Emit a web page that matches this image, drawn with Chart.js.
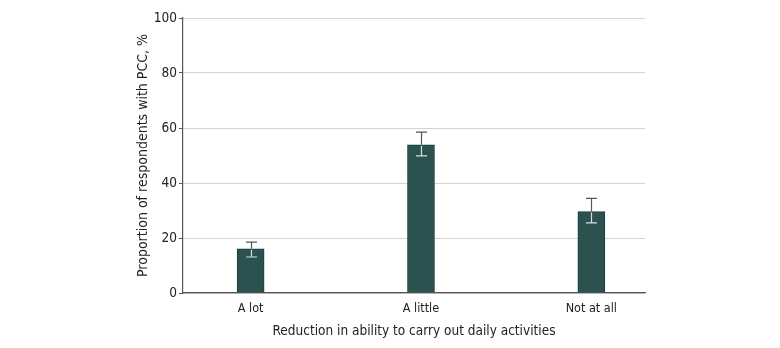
<!DOCTYPE html>
<html>
<head>
<meta charset="utf-8">
<script src="https://cdn.jsdelivr.net/npm/chart.js@4"></script>
<style>
  html, body { margin: 0; padding: 0; background: #fff; }
  #wrap { width: 780px; height: 348px; }
</style>
</head>
<body>
<div id="wrap"><canvas id="pcc_chart"></canvas></div>
<script>
// categories and values
const categories = ['A lot', 'A little', 'Not at all'];
const proportions = [16.1, 53.9, 29.6];
const ciLow = [13.1, 49.9, 25.5];
const ciHigh = [18.5, 58.5, 34.4];
const yTicks = [0, 20, 40, 60, 80, 100];

const fontFamily = "'DejaVu Sans Condensed', 'Noto Sans', sans-serif";

// error bars, drawn through the chart's own scales
const errorBars = {
    id: 'errorBars',
    afterDatasetsDraw(chart) {
        const ctx = chart.ctx;
        const xs = chart.scales.x;
        const ys = chart.scales.y;
        const half = 5.5;
        ctx.save();
        ctx.lineWidth = 1.2;
        proportions.forEach((v, i) => {
            const x = Math.round(xs.getPixelForValue(i + 1)) + 0.5;
            const yTop = ys.getPixelForValue(v);
            const yHi = ys.getPixelForValue(ciHigh[i]);
            const yLo = ys.getPixelForValue(ciLow[i]);
            // part above the bar
            ctx.strokeStyle = '#555';
            ctx.beginPath();
            ctx.moveTo(x, yHi);
            ctx.lineTo(x, yTop);
            ctx.moveTo(x - half, yHi);
            ctx.lineTo(x + half, yHi);
            ctx.stroke();
            // part inside the bar
            ctx.strokeStyle = '#d8dedd';
            ctx.beginPath();
            ctx.moveTo(x, yTop + 1);
            ctx.lineTo(x, yLo);
            ctx.moveTo(x - half, yLo);
            ctx.lineTo(x + half, yLo);
            ctx.stroke();
        });
        ctx.restore();
    }
};

const ctx = document.getElementById('pcc_chart').getContext('2d');
const pccChart = new Chart(ctx, {
    type: 'bar',
    data: {
        datasets: [{
            data: proportions.map((v, i) => ({ x: i + 1, y: v })),
            backgroundColor: '#2b5250',
            borderColor: '#1f3d3b',
            borderWidth: 1,
            barThickness: 27
        }]
    },
    options: {
        responsive: true,
        maintainAspectRatio: false,
        animation: false,
        layout: { padding: { left: 131, right: 135, top: 18, bottom: 0 } },
        plugins: {
            legend: { display: false },
            tooltip: { enabled: false }
        },
        scales: {
            x: {
                type: 'linear',
                offset: false,
                min: 0.603,
                max: 3.315,
                afterBuildTicks: function(scale) {
                    scale.ticks = categories.map((c, i) => ({ value: i + 1 }));
                },
                afterFit: function(scale) { scale.height = 55; },
                grid: { display: false },
                border: { display: true, color: '#555', width: 1.2 },
                ticks: {
                    padding: 0,
                    color: '#222',
                    font: { family: fontFamily, size: 12.5 },
                    callback: function(value) { return categories[value - 1]; }
                },
                title: {
                    display: true,
                    text: 'Reduction in ability to carry out daily activities',
                    color: '#222',
                    padding: { top: 2, bottom: 8 },
                    font: { family: fontFamily, size: 13.5 }
                }
            },
            y: {
                min: 0,
                max: 100,
                afterBuildTicks: function(scale) {
                    scale.ticks = yTicks.map(v => ({ value: v }));
                },
                afterFit: function(scale) { scale.width = 52; },
                grid: { color: '#d4d4d4', tickColor: '#555', tickLength: 4, lineWidth: 1 },
                border: { display: true, color: '#555', width: 1.2 },
                ticks: {
                    padding: 2,
                    color: '#222',
                    font: { family: fontFamily, size: 13.5 }
                },
                title: {
                    display: true,
                    text: 'Proportion of respondents with PCC, %',
                    color: '#222',
                    font: { family: fontFamily, size: 14 }
                }
            }
        }
    },
    plugins: [errorBars]
});
</script>
</body>
</html>
